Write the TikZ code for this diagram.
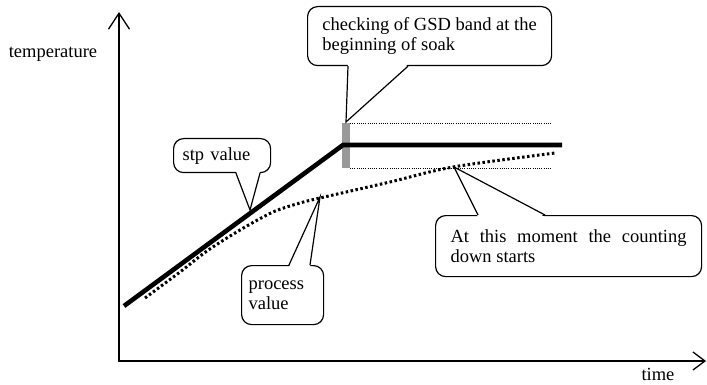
\documentclass[tikz,border=0pt]{standalone}
\usepackage{fontspec}
\setmainfont{Liberation Serif}
\usetikzlibrary{arrows.meta,calc}
\hbadness=10000
\tolerance=10000
\begin{document}
\begin{tikzpicture}[x=1pt,y=-1pt,
  txt/.style={font=\fontsize{18.5}{20.5}\selectfont, inner sep=0pt},
  callout/.style={draw, line width=1.2pt, fill=white, rounded corners=10pt, inner sep=0pt,
    anchor=north west, font=\fontsize{18.5}{20.5}\selectfont},
  ptr/.style={line width=1.2pt},
  axis/.style={line width=1.3pt},
  stp/.style={line width=4.6pt},
  pv/.style={line width=3pt, dash pattern=on 2.5pt off 2.5pt},
  band/.style={line width=0.8pt, dash pattern=on 1pt off 1.2pt},
]
\useasboundingbox (0,0) rectangle (707,385);

% axes
\coordinate (ytip) at (119,12);
\coordinate (o) at (119,361);
\coordinate (xtip) at (706,361);
\draw[axis, {Straight Barb[length=16pt,width=21pt]}-{Straight Barb[length=12pt,width=18pt]}]
  (ytip) -- (o) -- (xtip);
\node[txt] (temp) at (53,54) {temperature};
\node[txt] (time) at (658,374) {time};

% GSD band
\fill[gray!80] (342,123) rectangle (350,168);
\draw[band] (350,123) -- (552,123);
\draw[band] (350,168) -- (552,168);

% set point
\coordinate (s0) at (124,306);
\coordinate (s1) at (343,145);
\coordinate (s2) at (562,145);
\draw[stp] (s0) -- (s1) -- (s2);

% process value
\draw[pv] plot[smooth, tension=0.5] coordinates {(145,298) (180,272) (207,251) (240,230) (273,212) (300,203) (320,198) (390,182) (453,167) (555,153)};

% tips
\coordinate (tipgsd) at (346,122);
\coordinate (tipstp) at (250,210);
\coordinate (tippv) at (320,197);
\coordinate (tipcd) at (454,167);

% callouts
\node[callout, minimum width=244pt, minimum height=59pt, align=left] (gsd) at (307,6)
  {checking of GSD band at the\\beginning of soak};
\fill[white] ($(gsd.south west)+(41,-2)$) -- (tipgsd) -- ($(gsd.south west)+(101,-2)$) -- cycle;
\draw[ptr] ($(gsd.south west)+(41,0)$) -- (tipgsd) -- ($(gsd.south west)+(101,0)$);

\node[callout, minimum width=97pt, minimum height=34pt, text width=79pt, align=left] (stpv) at (173,138)
  {stp value};
\fill[white] ($(stpv.south west)+(63,-2)$) -- (tipstp) -- ($(stpv.south west)+(87,-2)$) -- cycle;
\draw[ptr] ($(stpv.south west)+(63,0)$) -- (tipstp) -- ($(stpv.south west)+(87,0)$);

\node[callout, minimum width=82pt, minimum height=59pt, text width=68pt, align=left] (pvv) at (241,265)
  {process\\value};
\fill[white] ($(pvv.north west)+(48,2)$) -- (tippv) -- ($(pvv.north west)+(69,2)$) -- cycle;
\draw[ptr] ($(pvv.north west)+(48,0)$) -- (tippv) -- ($(pvv.north west)+(69,0)$);

\node[callout, minimum width=266pt, minimum height=61pt, text width=236pt, align=justify] (cd) at (435,215)
  {At this moment the counting down starts};
\fill[white] ($(cd.north west)+(43,2)$) -- (tipcd) -- ($(cd.north west)+(110,2)$) -- cycle;
\draw[ptr] ($(cd.north west)+(43,0)$) -- (tipcd) -- ($(cd.north west)+(110,0)$);
\end{tikzpicture}
\end{document}
